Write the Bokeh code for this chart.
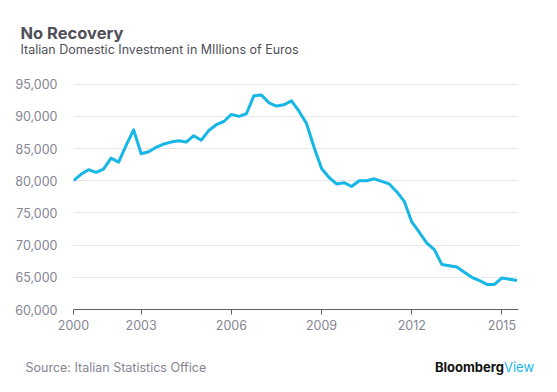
from bokeh.plotting import figure
from bokeh.layouts import column
from bokeh.models import Range1d, FixedTicker, NumeralTickFormatter, Label
from bokeh.embed import file_html
from bokeh.resources import INLINE

# Quarterly investment, millions of euros
investment = [
    80000, 81000, 81700, 81300, 81800, 83500, 82900, 85500, 87900, 84200,
    84500, 85200, 85700, 86000, 86200, 86000, 87000, 86300, 87800, 88700,
    89200, 90300, 90000, 90400, 93200, 93300, 92100, 91600, 91800, 92400,
    90800, 88900, 85200, 81900, 80500, 79500, 79700, 79100, 80000, 80000,
    80300, 79900, 79500, 78300, 76800, 73600, 72000, 70300, 69300, 67000,
    66800, 66600, 65800, 65000, 64500, 63900, 63900, 64900, 64700, 64500,
]
first_quarter = 2000.75
quarters = [first_quarter + 0.25 * i for i in range(len(investment))]

tick_positions = [2000.75, 2003, 2006, 2009, 2012, 2015]
tick_labels = ["2000", "2003", "2006", "2009", "2012", "2015"]
y_ticks = [60000, 65000, 70000, 75000, 80000, 85000, 90000, 95000]

title_text = "No Recovery"
subtitle_text = "Italian Domestic Investment in MIllions of Euros"
source_text = "Source: Italian Statistics Office"

FONT = "Inter"
TEXT_DARK = "#4f4f5a"
TEXT_GREY = "#858593"
LINE_COLOR = "#16b6e6"
W = 557


def text_panel(height):
    f = figure(width=W, height=height, output_backend="svg", toolbar_location=None,
               x_range=Range1d(0, W), y_range=Range1d(height, 0),
               x_axis_type=None, y_axis_type=None, frame_align=False,
               min_border=0, min_border_left=0, min_border_right=0,
               min_border_top=0, min_border_bottom=0)
    f.outline_line_color = None
    f.background_fill_color = "white"
    f.border_fill_color = "white"
    return f


# header
header = text_panel(60)
header.add_layout(Label(x=20, y=32.5, text=title_text, text_font=FONT,
                        text_font_size="16.5px", text_font_style="bold",
                        text_color=TEXT_DARK, text_baseline="alphabetic"))
header.add_layout(Label(x=20, y=49, text=subtitle_text, text_font=FONT,
                        text_font_size="12.5px", text_color=TEXT_DARK,
                        text_baseline="alphabetic"))

# main chart
p = figure(width=W, height=280, output_backend="svg", toolbar_location=None,
           x_range=Range1d(2000.75, 2015.55), y_range=Range1d(60000, 96500),
           min_border_left=73, min_border_right=39, min_border_top=14,
           min_border_bottom=31, frame_align=False)
p.outline_line_color = None
p.background_fill_color = "white"
p.border_fill_color = "white"

p.line(quarters, investment, line_color=LINE_COLOR, line_width=3,
       line_join="round")

p.xaxis.ticker = FixedTicker(ticks=tick_positions)
p.xaxis.major_label_overrides = {t: l for t, l in zip(tick_positions, tick_labels)}
p.xaxis.axis_line_color = "#5f5f6b"
p.xaxis.axis_line_width = 1
p.xaxis.major_tick_line_color = "#5f5f6b"
p.xaxis.major_tick_out = 5
p.xaxis.major_tick_in = 0
p.xaxis.minor_tick_line_color = None
p.xaxis.major_label_standoff = 5
p.xaxis.major_label_text_font = FONT
p.xaxis.major_label_text_font_size = "12.5px"
p.xaxis.major_label_text_color = TEXT_GREY

p.yaxis.ticker = FixedTicker(ticks=y_ticks)
p.yaxis.formatter = NumeralTickFormatter(format="0,0")
p.yaxis.axis_line_color = None
p.yaxis.major_tick_line_color = None
p.yaxis.minor_tick_line_color = None
p.yaxis.major_label_standoff = 10
p.yaxis.major_label_text_font = FONT
p.yaxis.major_label_text_font_size = "12.5px"
p.yaxis.major_label_text_color = TEXT_GREY

p.xgrid.grid_line_color = None
p.ygrid.ticker = FixedTicker(ticks=y_ticks)
p.ygrid.grid_line_color = "#e7e7ea"
p.ygrid.grid_line_width = 1

# footer
footer = text_panel(52)
footer.add_layout(Label(x=25, y=27, text=source_text, text_font=FONT,
                        text_font_size="12.5px", text_color=TEXT_GREY,
                        text_baseline="middle"))
footer.add_layout(Label(x=503.5, y=26, text="Bloomberg", text_font=FONT,
                        text_font_size="13px", text_font_style="bold",
                        text_color="#111111", text_baseline="middle",
                        text_align="right"))
footer.add_layout(Label(x=503.5, y=26, text="View", text_font=FONT,
                        text_font_size="13px", text_color=LINE_COLOR,
                        text_baseline="middle", text_align="left"))

layout = column(header, p, footer, spacing=0)
open("out.html", "w").write(file_html(layout, INLINE))
